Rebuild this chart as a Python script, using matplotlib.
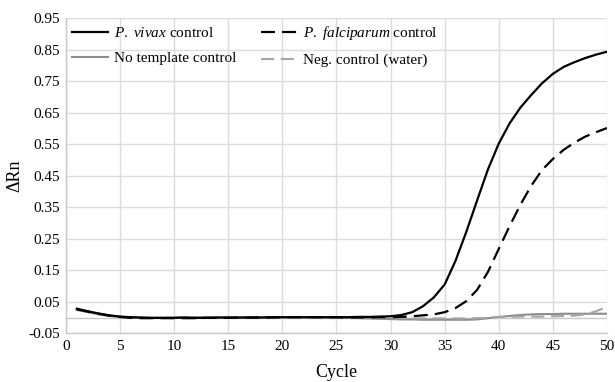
import matplotlib
matplotlib.use('Agg')
import matplotlib.pyplot as plt
import numpy as np

plt.rcParams['font.family'] = ['Liberation Serif', 'DejaVu Serif']
plt.rcParams['mathtext.fontset'] = 'custom'
plt.rcParams['mathtext.rm'] = 'Liberation Serif'
plt.rcParams['mathtext.it'] = 'Liberation Serif:italic'
plt.rcParams['axes.unicode_minus'] = False

cycles = list(range(1, 51))

vivax = [0.028, 0.020, 0.013, 0.007, 0.003, 0.001, 0.000, -0.001, -0.001, -0.001,
         0.000, -0.001, -0.001, 0.000, 0.000, 0.000, 0.000, 0.000, 0.001, 0.001,
         0.001, 0.001, 0.001, 0.001, 0.001, 0.001, 0.002, 0.002, 0.003, 0.004,
         0.008, 0.017, 0.036, 0.064, 0.105, 0.180, 0.272, 0.372, 0.470, 0.552,
         0.616, 0.666, 0.706, 0.743, 0.773, 0.795, 0.810, 0.823, 0.834, 0.843]

falciparum = [0.026, 0.019, 0.012, 0.006, 0.002, -0.001, -0.002, -0.002, -0.002, -0.002,
              -0.002, -0.002, -0.001, -0.001, -0.001, 0.000, 0.000, 0.000, 0.000, 0.001,
              0.001, 0.001, 0.001, 0.001, 0.001, 0.000, 0.000, 0.000, 0.001, 0.001,
              0.002, 0.004, 0.007, 0.010, 0.017, 0.030, 0.052, 0.088, 0.145, 0.218,
              0.290, 0.358, 0.418, 0.468, 0.503, 0.532, 0.555, 0.574, 0.588, 0.601]

no_template = [0.024, 0.017, 0.010, 0.005, 0.001, 0.000, -0.001, -0.001, -0.001, 0.000,
               0.000, 0.000, 0.000, 0.000, 0.000, 0.000, 0.000, 0.001, 0.001, 0.001,
               0.001, 0.001, 0.001, 0.000, 0.000, -0.001, -0.002, -0.003, -0.004, -0.005,
               -0.006, -0.006, -0.007, -0.007, -0.007, -0.007, -0.007, -0.006, -0.002, 0.002,
               0.005, 0.008, 0.010, 0.011, 0.011, 0.012, 0.012, 0.012, 0.012, 0.012]

water = [0.026, 0.018, 0.011, 0.005, 0.001, 0.000, -0.001, -0.001, -0.001, 0.000,
         0.000, 0.000, 0.000, 0.000, 0.000, 0.000, 0.000, 0.001, 0.001, 0.001,
         0.001, 0.001, 0.001, 0.001, 0.000, 0.000, -0.001, -0.001, -0.002, -0.002,
         -0.002, -0.003, -0.003, -0.003, -0.003, -0.003, -0.003, -0.002, -0.001, 0.001,
         0.002, 0.003, 0.003, 0.003, 0.004, 0.005, 0.006, 0.010, 0.020, 0.034]

y_ticks = [-0.05, 0.05, 0.15, 0.25, 0.35, 0.45, 0.55, 0.65, 0.75, 0.85, 0.95]
x_ticks = [0, 5, 10, 15, 20, 25, 30, 35, 40, 45, 50]

fig = plt.figure(figsize=(6.15, 3.82), dpi=100)
ax = fig.add_axes([0.1073, 0.1275, 0.8797, 0.8254])

ax.grid(True, color='#dcdcdc', linewidth=1.0, zorder=0)
ax.axhline(0, color='#c8c8c8', linewidth=1.0, zorder=1)

ax.plot(cycles, vivax, color='black', linewidth=1.6, label=r'$P.$ $vivax$ control', zorder=5)
ax.plot(cycles, no_template, color='#8c8c8c', linewidth=1.5, label='No template control', zorder=3)
ax.plot(cycles, falciparum, color='black', linewidth=1.6, dashes=(6.3, 3.2),
        label=r'$P.$ $falciparum$ control', zorder=4)
ax.plot(cycles, water, color='#a6a6a6', linewidth=1.5, dashes=(6.3, 3.2),
        label='Neg. control (water)', zorder=3)

ax.set_xlim(0, 50)
ax.set_ylim(-0.05, 0.95)
ax.set_xticks(x_ticks)
ax.set_yticks(y_ticks)
ax.set_yticklabels([f'{v:.2f}' for v in y_ticks])
ax.tick_params(length=0, labelsize=11, pad=4.5)

for s in ['top', 'right']:
    ax.spines[s].set_visible(False)
for s in ['left', 'bottom']:
    ax.spines[s].set_color('#c8c8c8')
    ax.spines[s].set_linewidth(1.0)

ax.set_xlabel('Cycle', fontsize=13, labelpad=8)
ax.set_ylabel('ΔRn', fontsize=13, labelpad=3)

leg = ax.legend(loc='upper left', ncol=2, frameon=False, fontsize=11,
                handlelength=2.35, handletextpad=0.4, columnspacing=1.6,
                borderaxespad=0.0, labelspacing=0.75)

fig.savefig('out.png', dpi=100)
